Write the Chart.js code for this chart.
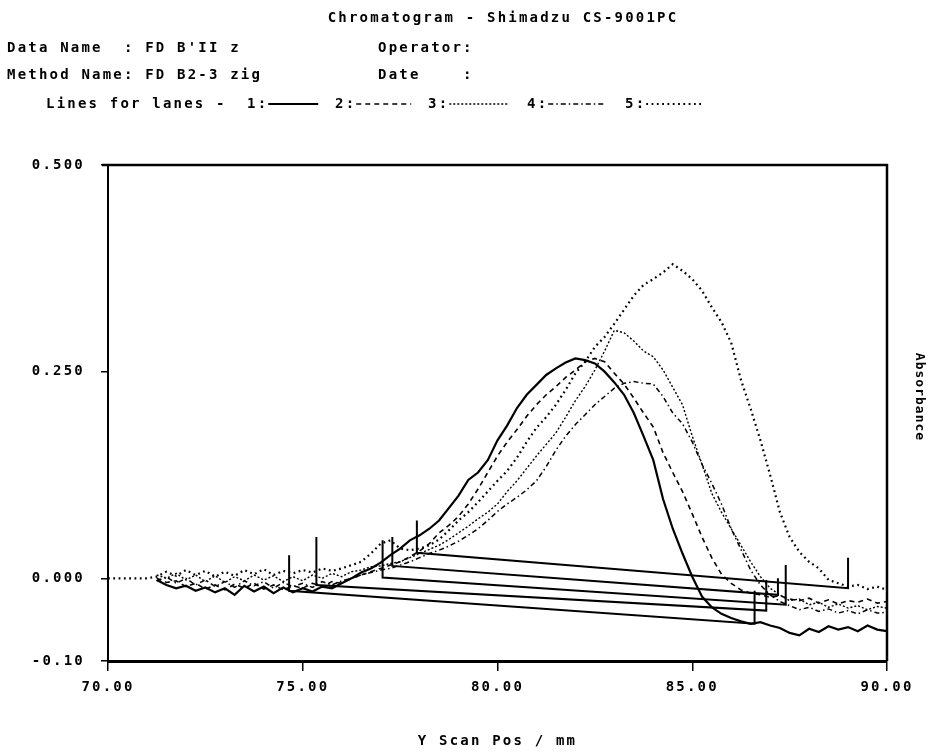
<!DOCTYPE html>
<html>
<head>
<meta charset="utf-8">
<script src="https://cdn.jsdelivr.net/npm/chart.js@4.4.1/dist/chart.umd.min.js"></script>
<style>
  html, body { margin: 0; padding: 0; background: #fff; }
  #wrap { position: relative; width: 936px; height: 753px; }
</style>
</head>
<body>
<div id="wrap"><canvas id="chart" width="936" height="753"></canvas></div>
<script>
/* Shimadzu CS-9001PC chromatogram, 5 lanes */

const scanPos = [70.0, 70.5, 71.0, 71.25, 71.5, 71.75, 72.0, 72.25, 72.5, 72.75,
  73.0, 73.25, 73.5, 73.75, 74.0, 74.25, 74.5, 74.75, 75.0, 75.25, 75.5, 75.75,
  76.0, 76.25, 76.5, 76.75, 77.0, 77.25, 77.5, 77.75, 78.0, 78.25, 78.5, 78.75,
  79.0, 79.25, 79.5, 79.75, 80.0, 80.25, 80.5, 80.75, 81.0, 81.25, 81.5, 81.75,
  82.0, 82.25, 82.5, 82.75, 83.0, 83.25, 83.5, 83.75, 84.0, 84.25, 84.5, 84.75,
  85.0, 85.25, 85.5, 85.75, 86.0, 86.25, 86.5, 86.75, 87.0, 87.25, 87.5, 87.75,
  88.0, 88.25, 88.5, 88.75, 89.0, 89.25, 89.5, 89.75, 90.0];

const lane1 = [null, null, null,
  -0.002, -0.008, -0.012, -0.009, -0.015, -0.011, -0.017, -0.012, -0.020, -0.009,
  -0.016, -0.010, -0.018, -0.011, -0.017, -0.012, -0.016, -0.010, -0.012, -0.006,
  0.000, 0.007, 0.012, 0.019, 0.028, 0.036, 0.046, 0.052, 0.060, 0.070,
  0.085, 0.100, 0.119, 0.128, 0.143, 0.167, 0.185, 0.206, 0.222, 0.234,
  0.246, 0.254, 0.261, 0.266, 0.264, 0.260, 0.250, 0.237, 0.222, 0.200,
  0.172, 0.143, 0.096, 0.060, 0.030, 0.002, -0.022, -0.035, -0.043, -0.048,
  -0.052, -0.055, -0.053, -0.057, -0.060, -0.066, -0.069, -0.061, -0.065, -0.058,
  -0.062, -0.059, -0.064, -0.057, -0.062, -0.064];

const lane2 = [null, null, null,
  0.000, -0.005, -0.003, -0.010, -0.006, -0.013, -0.008, -0.014, -0.007, -0.012,
  -0.006, -0.013, -0.008, -0.014, -0.009, -0.012, -0.006, -0.010, -0.004, -0.006,
  0.000, 0.004, 0.008, 0.012, 0.016, 0.020, 0.026, 0.033, 0.042, 0.055,
  0.064, 0.075, 0.090, 0.108, 0.128, 0.148, 0.165, 0.180, 0.196, 0.210,
  0.222, 0.232, 0.243, 0.252, 0.262, 0.266, 0.262, 0.248, 0.235, 0.218,
  0.200, 0.183, 0.152, 0.128, 0.105, 0.078, 0.050, 0.025, 0.005, -0.006,
  -0.014, -0.018, -0.020, -0.023, -0.021, -0.025, -0.027, -0.024, -0.030, -0.026,
  -0.031, -0.027, -0.029, -0.025, -0.030, -0.028];

const lane3 = [null, null, null,
  0.004, 0.000, 0.006, -0.002, 0.004, -0.004, 0.003, -0.005, 0.002, -0.003,
  0.004, -0.002, 0.003, -0.004, 0.002, -0.003, 0.004, 0.000, 0.006, 0.002,
  0.008, 0.010, 0.014, 0.015, 0.018, 0.020, 0.025, 0.030, 0.035, 0.040,
  0.047, 0.055, 0.063, 0.072, 0.080, 0.090, 0.105, 0.118, 0.133, 0.148,
  0.162, 0.176, 0.195, 0.215, 0.232, 0.252, 0.275, 0.300, 0.297, 0.287,
  0.275, 0.268, 0.252, 0.231, 0.210, 0.172, 0.138, 0.103, 0.080, 0.060,
  0.040, 0.020, 0.002, -0.012, -0.020, -0.027, -0.025, -0.032, -0.029, -0.035,
  -0.031, -0.036, -0.033, -0.038, -0.034, -0.036];

const lane4 = [null, null, null,
  -0.003, 0.002, -0.006, 0.000, -0.008, -0.002, -0.010, -0.004, -0.011, -0.003,
  -0.009, -0.004, -0.012, -0.005, -0.010, -0.006, -0.011, -0.004, -0.008, -0.003,
  0.000, 0.004, 0.007, 0.010, 0.012, 0.016, 0.020, 0.025, 0.030, 0.034,
  0.039, 0.045, 0.052, 0.060, 0.070, 0.081, 0.090, 0.098, 0.107, 0.118,
  0.135, 0.155, 0.172, 0.186, 0.198, 0.210, 0.220, 0.230, 0.236, 0.238,
  0.236, 0.235, 0.220, 0.200, 0.187, 0.165, 0.138, 0.115, 0.090, 0.060,
  0.035, 0.010, -0.008, -0.020, -0.028, -0.033, -0.038, -0.035, -0.040, -0.037,
  -0.042, -0.039, -0.043, -0.038, -0.042, -0.041];

const lane5 = [0.000, 0.000, 0.000,
  0.002, 0.008, 0.003, 0.010, 0.004, 0.009, 0.002, 0.008, 0.003, 0.010,
  0.005, 0.011, 0.004, 0.009, 0.006, 0.010, 0.007, 0.012, 0.009, 0.012,
  0.016, 0.020, 0.030, 0.042, 0.046, 0.036, 0.034, 0.036, 0.040, 0.047,
  0.058, 0.070, 0.080, 0.092, 0.105, 0.118, 0.130, 0.146, 0.165, 0.182,
  0.195, 0.210, 0.228, 0.248, 0.262, 0.280, 0.292, 0.308, 0.325, 0.342,
  0.355, 0.362, 0.370, 0.380, 0.372, 0.362, 0.348, 0.328, 0.310, 0.285,
  0.240, 0.205, 0.167, 0.125, 0.080, 0.050, 0.032, 0.020, 0.012, -0.002,
  -0.006, -0.010, -0.008, -0.013, -0.010, -0.014];

/* integration baselines: start / end of each peak, with the marker tops */
const baseStartX = [74.65, 75.35, 77.05, 77.30, 77.93];
const baseStartY = [-0.015, -0.008, 0.001, 0.015, 0.031];
const baseEndX   = [86.60, 86.90, 87.40, 87.20, 89.00];
const baseEndY   = [-0.055, -0.039, -0.032, -0.020, -0.012];
const markTopStart = [0.028, 0.050, 0.046, 0.050, 0.070];
const markTopEnd   = [-0.015, -0.002, 0.016, 0.000, 0.025];

const xTicks = [70, 75, 80, 85, 90];
const xTickLabels = ['70.00', '75.00', '80.00', '85.00', '90.00'];
const yTicks = [-0.1, 0, 0.25, 0.5];
const yTickLabels = ['-0.10', '0.000', '0.250', '0.500'];

const laneNames = ['1:', '2:', '3:', '4:', '5:'];
const FONT = '"DejaVu Sans Mono", monospace';
const SPACING = '2.2px';

function pts(vals) {
  return scanPos.map((x, i) => ({ x, y: vals[i] }));
}

const laneStyle = [
  { borderWidth: 2.2, borderDash: [] },
  { borderWidth: 1.6, borderDash: [5, 4] },
  { borderWidth: 1.4, borderDash: [2, 2] },
  { borderWidth: 1.5, borderDash: [5, 3, 1.5, 3] },
  { borderWidth: 2.2, borderDash: [1.8, 3.5] },
];

const laneSets = [lane1, lane2, lane3, lane4, lane5].map((vals, i) => ({
  label: 'Lane ' + (i + 1),
  data: pts(vals),
  borderColor: '#000',
  pointRadius: 0,
  tension: 0,
  spanGaps: false,
  ...laneStyle[i],
}));

const baseSets = baseStartX.map((x0, i) => ({
  label: 'Baseline ' + (i + 1),
  data: [
    { x: x0, y: markTopStart[i] },
    { x: x0, y: baseStartY[i] },
    { x: baseEndX[i], y: baseEndY[i] },
    { x: baseEndX[i], y: markTopEnd[i] },
  ],
  borderColor: '#000',
  borderWidth: 2,
  pointRadius: 0,
  tension: 0,
}));

const spacing = {
  id: 'spacing',
  beforeDraw(chart) { chart.ctx.letterSpacing = SPACING; },
};

const frame = {
  id: 'frame',
  afterDraw(chart) {
    const { ctx, chartArea: a } = chart;
    ctx.save();
    ctx.strokeStyle = '#000';
    ctx.lineWidth = 2.5;
    ctx.beginPath();
    ctx.moveTo(a.left - 6, a.top);
    ctx.lineTo(a.right, a.top);
    ctx.lineTo(a.right, a.bottom);
    ctx.stroke();
    ctx.restore();
  },
};

// legend label positions and sample lengths, as laid out on the print
const legendAt = [247, 335, 428, 527, 625];
const legendLen = [50, 55, 60, 55, 57];

const header = {
  id: 'header',
  afterDraw(chart) {
    const ctx = chart.ctx;
    ctx.save();
    ctx.letterSpacing = SPACING;
    ctx.fillStyle = '#000';
    ctx.strokeStyle = '#000';
    ctx.font = 'bold 14px ' + FONT;
    ctx.textBaseline = 'middle';
    ctx.textAlign = 'center';
    ctx.fillText('Chromatogram - Shimadzu CS-9001PC', 503, 18);
    ctx.textAlign = 'left';
    ctx.fillText("Data Name  : FD B'II z", 7, 48);
    ctx.fillText('Operator:', 378, 48);
    ctx.fillText('Method Name: FD B2-3 zig', 7, 75);
    ctx.fillText('Date    :', 378, 75);

    // legend of line styles
    const y = 104;
    ctx.fillText('Lines for lanes -', 46, y);
    chart.data.datasets.slice(0, 5).forEach((ds, i) => {
      ctx.fillText(laneNames[i], legendAt[i], y);
      const x = legendAt[i] + ctx.measureText(laneNames[i]).width;
      ctx.beginPath();
      ctx.setLineDash(ds.borderDash);
      ctx.lineWidth = Math.min(ds.borderWidth, 1.8);
      ctx.moveTo(x, y);
      ctx.lineTo(x + legendLen[i], y);
      ctx.stroke();
    });
    ctx.setLineDash([]);

    // right-hand axis name, reading downwards
    ctx.translate(919, 397);
    ctx.rotate(Math.PI / 2);
    ctx.textAlign = 'center';
    ctx.font = 'bold 13px ' + FONT;
    ctx.letterSpacing = '1px';
    ctx.fillText('Absorbance', 0, 0);
    ctx.restore();
  },
};

const tickFont = { family: FONT, size: 14, weight: 'bold' };

new Chart(document.getElementById('chart'), {
  type: 'line',
  data: { datasets: [...laneSets, ...baseSets] },
  options: {
    responsive: false,
    animation: false,
    devicePixelRatio: 1,
    layout: { padding: { left: 0, top: 165, right: 49, bottom: 0 } },
    plugins: {
      legend: { display: false },
      tooltip: { enabled: false },
    },
    scales: {
      x: {
        type: 'linear',
        min: 70,
        max: 90,
        afterBuildTicks: s => { s.ticks = xTicks.map(v => ({ value: v })); },
        afterFit: s => { s.height = 92; },
        ticks: {
          color: '#000',
          font: tickFont,
          padding: 8,
          maxRotation: 0,
          callback: (v, i) => xTickLabels[i],
        },
        grid: { drawOnChartArea: false, color: '#000', lineWidth: 1.5, tickLength: 10 },
        border: { display: true, color: '#000', width: 3 },
        title: {
          display: true,
          text: 'Y Scan Pos / mm',
          color: '#000',
          font: tickFont,
          padding: { top: 0, bottom: 3 },
        },
      },
      y: {
        type: 'linear',
        min: -0.1,
        max: 0.5,
        afterBuildTicks: s => { s.ticks = yTicks.map(v => ({ value: v })); },
        afterFit: s => { s.width = 108; },
        ticks: {
          color: '#000',
          font: tickFont,
          padding: 16,
          callback: (v, i) => yTickLabels[i],
        },
        grid: { drawOnChartArea: false, color: '#000', lineWidth: 1.5, tickLength: 7 },
        border: { display: true, color: '#000', width: 2 },
      },
    },
  },
  plugins: [spacing, frame, header],
});
</script>
</body>
</html>
